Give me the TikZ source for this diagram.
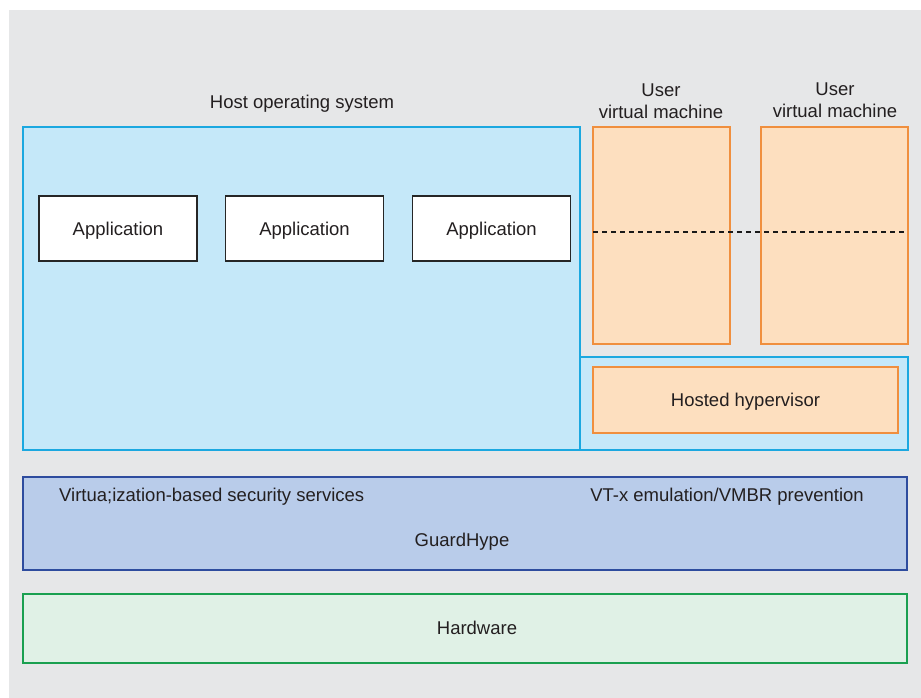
\documentclass[tikz,border=0pt]{standalone}
\usepackage{fontspec}
\setmainfont{Liberation Sans}
\definecolor{bgray}{HTML}{E6E7E8}
\definecolor{lblue}{HTML}{C5E8F9}
\definecolor{cyanb}{HTML}{1BA8E0}
\definecolor{lorange}{HTML}{FDDFBF}
\definecolor{orangeb}{HTML}{F08F3E}
\definecolor{gfill}{HTML}{B9CCEA}
\definecolor{gborder}{HTML}{2E4C9E}
\definecolor{hfill}{HTML}{E0F1E6}
\definecolor{hborder}{HTML}{1AA050}
\definecolor{txt}{HTML}{231F20}
\begin{document}
\begin{tikzpicture}[x=1pt,y=-1pt,
  every node/.style={text=txt,font=\fontsize{18.5}{22}\selectfont},
  area/.style={draw,rectangle,inner sep=0pt,line width=1.6pt},
  osbox/.style={area,draw=cyanb,fill=lblue},
  vmbox/.style={area,draw=orangeb,fill=lorange},
  appbox/.style={area,draw=black!85,fill=white,minimum width=158pt,minimum height=65pt,line width=1.8pt},
  gbox/.style={area,draw=gborder,fill=gfill},
  hwbox/.style={area,draw=hborder,fill=hfill},
  lbl/.style={inner sep=0pt,align=center,yshift=-2pt}]
\useasboundingbox (0,0) rectangle (921,698);
\fill[bgray] (9,10) rectangle (921,698);
% host OS
\node[osbox,minimum width=557pt,minimum height=323pt] (os) at (301.5,288.5) {};
\node[lbl] (oslbl) at (302,102) {Host operating system};
\node[appbox] (app1) at (118,228.5) {};
\node[appbox] (app2) at (304.5,228.5) {};
\node[appbox] (app3) at (491.5,228.5) {};
\node[lbl] at (app1) {Application};
\node[lbl] at (app2) {Application};
\node[lbl] at (app3) {Application};
% hosted hypervisor
\node[osbox,minimum width=328pt,minimum height=93pt] (hh) at (744,403.5) {};
\node[vmbox,minimum width=305pt,minimum height=66pt] (hhin) at (745.5,400) {};
\node[lbl] at (hhin) {Hosted hypervisor};
% VMs
\node[vmbox,minimum width=137pt,minimum height=217pt] (vm1) at (661.5,235.5) {};
\node[vmbox,minimum width=147pt,minimum height=217pt] (vm2) at (834.5,235.5) {};
\node[lbl] (vm1lbl) at (661,99) {User\\virtual machine};
\node[lbl] (vm2lbl) at (835,98) {User\\virtual machine};
\coordinate (dl) at (593,232);
\coordinate (dr) at (907,232);
\draw[dashed,line width=1.3pt,dash pattern=on 5pt off 4pt,black!90] (dl) -- (dr);
% GuardHype
\node[gbox,minimum width=884pt,minimum height=93pt] (gh) at (465,523.5) {};
\node[lbl,anchor=west] (vbs) at (59,495) {Virtua;ization-based security services};
\node[lbl] (vtx) at (727,495) {VT-x emulation/VMBR prevention};
\node[lbl] (ghl) at (462,540) {GuardHype};
% Hardware
\node[hwbox,minimum width=884pt,minimum height=69pt] (hw) at (465,628.5) {};
\node[lbl] (hwl) at (477,626) {Hardware};
\end{tikzpicture}
\end{document}
